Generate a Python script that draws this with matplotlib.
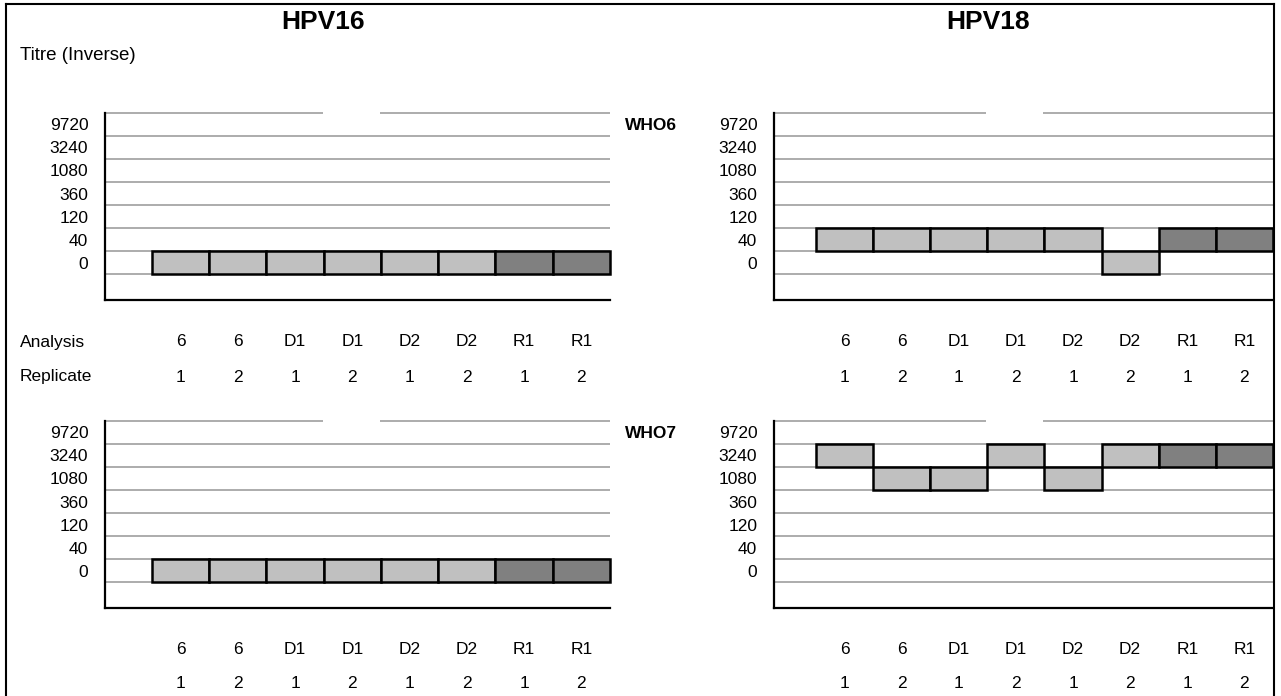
import matplotlib
matplotlib.use('Agg')
import matplotlib.pyplot as plt
import numpy as np
from matplotlib.lines import Line2D
from matplotlib.transforms import blended_transform_factory

plt.rcParams['font.family'] = ['Liberation Sans', 'DejaVu Sans']

# donnees
titre_levels = [0, 40, 120, 360, 1080, 3240, 9720]
analysis = ['6', '6', 'D1', 'D1', 'D2', 'D2', 'R1', 'R1']
replicate = ['1', '2', '1', '2', '1', '2', '1', '2']
hpv16_who6 = [0, 0, 0, 0, 0, 0, 0, 0]
hpv18_who6 = [40, 40, 40, 40, 40, 0, 40, 40]
hpv16_who7 = [0, 0, 0, 0, 0, 0, 0, 0]
hpv18_who7 = [3240, 1080, 1080, 3240, 1080, 3240, 3240, 3240]

W, H = 1281, 696
fig = plt.figure(figsize=(W / 100, H / 100), dpi=100)


def fx(px):
    return px / W


def fy(py):
    return 1 - py / H


light = '#c0c0c0'
dark = '#808080'
grid_col = '#969696'

# (gauche px, droite px, haut px, bas px, xmin, valeurs, lignes d'etiquettes y px)
panels = [
    (105, 610, 112.7, 300, -1.32, hpv16_who6, (342, 377)),
    (774, 1273, 112.7, 300, -1.233, hpv18_who6, (342, 377)),
    (105, 610, 420.7, 608, -1.32, hpv16_who7, (650, 684)),
    (774, 1273, 420.7, 608, -1.233, hpv18_who7, (650, 684)),
]

x = np.arange(len(analysis))
n = len(titre_levels)
for left, right, top, bottom, xmin, vals, label_rows in panels:
    ax = fig.add_axes([fx(left), fy(bottom), fx(right) - fx(left), fy(top) - fy(bottom)])
    ax.set_xlim(xmin, len(x) - 0.5)
    ax.set_ylim(-1.61, n - 0.5)

    # lignes de quadrillage entre les niveaux (celle du haut est coupee au milieu)
    ax.hlines(np.arange(n) - 0.5, xmin, len(x) - 0.5, color=grid_col, lw=1.1, zorder=1)
    ax.hlines([n - 0.5, n - 0.5], [xmin, 3.48], [2.48, len(x) - 0.5], color=grid_col, lw=1.1,
              zorder=1, clip_on=False)

    band = [titre_levels.index(v) for v in vals]
    colors = [dark if a == 'R1' else light for a in analysis]
    ax.bar(x, 1.0, bottom=np.array(band) - 0.5, width=1.0, color=colors,
           edgecolor='black', linewidth=1.8, zorder=3, clip_on=False)

    for s in ['top', 'right']:
        ax.spines[s].set_visible(False)
    for s in ['left', 'bottom']:
        ax.spines[s].set_linewidth(1.6)
        ax.spines[s].set_color('black')
    ax.set_xticks([])
    ax.set_yticks(range(n))
    ax.set_yticklabels([str(v) for v in titre_levels], fontsize=12.5)
    ax.tick_params(axis='y', length=0, pad=12)

    tr = blended_transform_factory(ax.transData, fig.transFigure)
    for i in x:
        ax.text(i, fy(label_rows[0]), analysis[i], transform=tr, ha='center', va='center',
                fontsize=12.5)
        ax.text(i, fy(label_rows[1]), replicate[i], transform=tr, ha='center', va='center',
                fontsize=12.5)

# textes
fig.text(fx(323), fy(22), 'HPV16', ha='center', va='center', fontsize=19, fontweight='bold')
fig.text(fx(988), fy(22), 'HPV18', ha='center', va='center', fontsize=19, fontweight='bold')
fig.text(fx(20), fy(55), 'Titre (Inverse)', ha='left', va='center', fontsize=13.5)
fig.text(fx(20), fy(342), 'Analysis', ha='left', va='center', fontsize=12.5)
fig.text(fx(20), fy(377), 'Replicate', ha='left', va='center', fontsize=12.5)
fig.text(fx(625), fy(125), 'WHO6', ha='left', va='center', fontsize=12.5, fontweight='bold')
fig.text(fx(625), fy(433), 'WHO7', ha='left', va='center', fontsize=12.5, fontweight='bold')

# cadre exterieur
fig.add_artist(Line2D([fx(6), fx(6)], [fy(3.5), 0], color='black', lw=1.5))
fig.add_artist(Line2D([fx(6), fx(1273.5)], [fy(3.5), fy(3.5)], color='black', lw=1.5))
fig.add_artist(Line2D([fx(1273.5), fx(1273.5)], [fy(3.5), 0], color='black', lw=1.5))

fig.savefig('out.png', dpi=100)
